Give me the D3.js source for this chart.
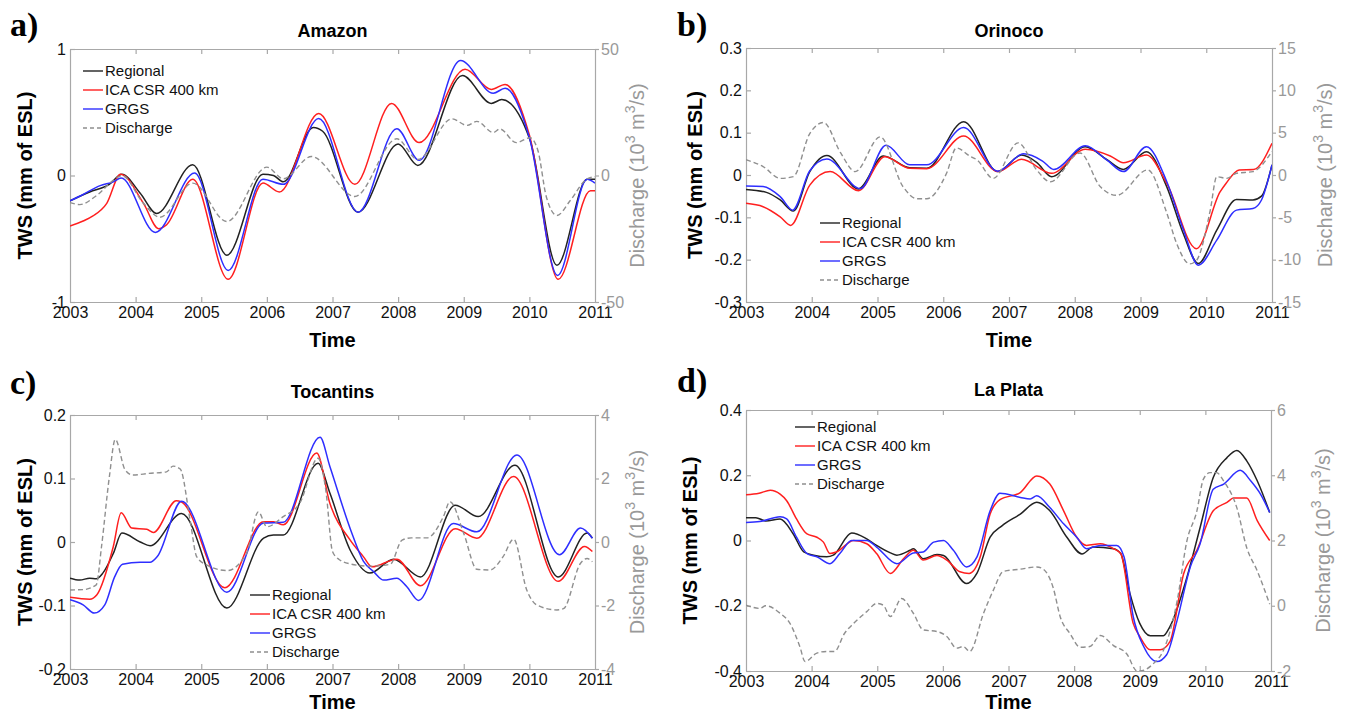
<!DOCTYPE html>
<html>
<head>
<meta charset="utf-8">
<script src="https://cdn.jsdelivr.net/npm/d3@7"></script>
<style>
  body { margin: 0; background: #fff; }
  svg { font-family: Arial, "Liberation Sans", Helvetica, sans-serif; }
</style>
</head>
<body>
<svg id="chart" width="1345" height="713"></svg>
<script>
// DATA: [decimal year, value]; TWS in mm of ESL, discharge in 10^3 m^3/s
const years = [2003, 2004, 2005, 2006, 2007, 2008, 2009, 2010, 2011];
const seriesNames = ["Regional", "ICA CSR 400 km", "GRGS", "Discharge"];

// --- Amazon ---
const amazonRegional = [[2003.0,-0.20],[2003.3,-0.13],[2003.6,-0.07],[2003.79,0.01],[2004.07,-0.14],[2004.32,-0.30],[2004.87,0.085],[2005.39,-0.63],[2005.94,0.01],[2006.1,0.0],[2006.25,-0.05],[2006.71,0.38],[2006.85,0.35],[2007.39,-0.29],[2008.0,0.25],[2008.3,0.08],[2008.98,0.79],[2009.42,0.57],[2009.58,0.60],[2010.01,0.28],[2010.42,-0.71],[2010.88,-0.03],[2011.0,-0.03]];
const amazonICA = [[2003.0,-0.40],[2003.2,-0.36],[2003.35,-0.32],[2003.56,-0.22],[2003.77,0.01],[2004.12,-0.22],[2004.35,-0.42],[2004.47,-0.39],[2004.87,-0.03],[2005.41,-0.82],[2005.94,-0.06],[2006.19,-0.13],[2006.79,0.49],[2007.34,-0.07],[2007.9,0.57],[2008.32,0.26],[2009.02,0.84],[2009.42,0.68],[2009.63,0.72],[2010.0,0.32],[2010.44,-0.82],[2010.93,-0.12],[2011.0,-0.12]];
const amazonGRGS = [[2003.0,-0.20],[2003.2,-0.15],[2003.46,-0.08],[2003.66,-0.05],[2003.78,-0.02],[2004.3,-0.45],[2004.9,0.02],[2005.41,-0.75],[2005.94,-0.03],[2006.25,-0.07],[2006.79,0.45],[2007.39,-0.29],[2007.98,0.37],[2008.32,0.12],[2008.95,0.91],[2009.45,0.65],[2009.63,0.69],[2010.0,0.30],[2010.43,-0.79],[2010.88,-0.03],[2011.0,-0.06]];
const amazonDischarge = [[2003.0,-10.7],[2003.15,-11.5],[2003.4,-8],[2003.69,-1.3],[2003.79,0],[2004.12,-11],[2004.37,-16.5],[2004.87,-3],[2005.39,-18.2],[2006.0,3.3],[2006.25,-1.3],[2006.68,7.5],[2007.34,-8.3],[2007.98,14.5],[2008.3,6.3],[2008.82,22.4],[2009.05,19.8],[2009.2,21.4],[2009.45,17],[2009.55,18.4],[2009.8,13],[2010.01,14.9],[2010.13,9.9],[2010.26,-8.6],[2010.42,-15.8],[2010.62,-10],[2010.88,-1.3],[2011.0,-0.5]];
const amazonTicks = [-1, 0, 1];
const amazonDischargeTicks = [-50, 0, 50];

// --- Orinoco ---
const orinocoRegional = [[2003.0,-0.034],[2003.31,-0.041],[2003.52,-0.059],[2003.72,-0.085],[2003.97,0.008],[2004.23,0.046],[2004.71,-0.033],[2005.09,0.045],[2005.49,0.017],[2005.75,0.016],[2006.31,0.126],[2006.83,0.008],[2007.19,0.047],[2007.42,0.03],[2007.65,-0.004],[2008.16,0.067],[2008.49,0.036],[2008.74,0.013],[2009.09,0.055],[2009.4,-0.028],[2009.65,-0.138],[2009.88,-0.209],[2010.16,-0.13],[2010.46,-0.058],[2010.71,-0.059],[2010.84,-0.05],[2011.0,0.024]];
const orinocoICA = [[2003.0,-0.067],[2003.26,-0.075],[2003.52,-0.099],[2003.68,-0.119],[2003.97,-0.024],[2004.28,0.008],[2004.71,-0.037],[2005.11,0.043],[2005.49,0.016],[2005.75,0.015],[2006.31,0.092],[2006.83,0.008],[2007.19,0.037],[2007.65,0.004],[2008.16,0.061],[2008.54,0.045],[2008.74,0.029],[2009.09,0.047],[2009.4,-0.02],[2009.85,-0.174],[2010.21,-0.04],[2010.3,-0.02],[2010.5,0.012],[2010.72,0.013],[2011.0,0.075]];
const orinocoGRGS = [[2003.0,-0.026],[2003.26,-0.027],[2003.52,-0.051],[2003.71,-0.083],[2003.97,0.01],[2004.23,0.038],[2004.74,-0.032],[2005.13,0.07],[2005.49,0.024],[2005.75,0.024],[2006.31,0.112],[2006.83,0.009],[2007.22,0.05],[2007.51,0.033],[2007.68,0.013],[2008.16,0.069],[2008.49,0.035],[2008.74,0.008],[2009.09,0.067],[2009.4,-0.016],[2009.65,-0.128],[2009.88,-0.213],[2010.16,-0.154],[2010.46,-0.083],[2010.71,-0.079],[2010.84,-0.059],[2011.0,0.024]];
const orinocoDischarge = [[2003.0,1.8],[2003.26,1.0],[2003.52,-0.4],[2003.72,-0.2],[2003.97,4.9],[2004.18,6.2],[2004.44,2.6],[2004.66,0.4],[2005.04,4.5],[2005.39,-1.4],[2005.6,-2.8],[2005.75,-2.8],[2006.05,0.2],[2006.2,3.2],[2006.41,2.2],[2006.51,1.8],[2006.76,-0.4],[2007.14,3.8],[2007.42,0.6],[2007.63,-0.8],[2008.08,2.6],[2008.39,-1.4],[2008.64,-2.4],[2009.11,0.6],[2009.4,-4.5],[2009.55,-8.1],[2009.75,-10.5],[2009.85,-10.1],[2010.06,-4.2],[2010.16,-0.2],[2010.31,-0.4],[2010.46,0.2],[2010.71,0.4],[2011.0,2.8]];
const orinocoTicks = [-0.3, -0.2, -0.1, 0, 0.1, 0.2, 0.3];
const orinocoDischargeTicks = [-15, -10, -5, 0, 5, 10, 15];

// --- Tocantins ---
const tocantinsRegional = [[2003.0,-0.057],[2003.15,-0.06],[2003.3,-0.057],[2003.4,-0.058],[2003.5,-0.049],[2003.66,-0.018],[2003.79,0.014],[2004.07,0.0],[2004.22,-0.006],[2004.7,0.045],[2005.39,-0.104],[2005.95,0.006],[2006.1,0.011],[2006.25,0.011],[2006.78,0.124],[2006.96,0.077],[2007.27,-0.013],[2007.57,-0.049],[2007.93,-0.027],[2008.34,-0.055],[2008.87,0.058],[2009.22,0.04],[2009.78,0.121],[2010.44,-0.055],[2010.88,0.014],[2010.96,0.006]];
const tocantinsICA = [[2003.0,-0.087],[2003.3,-0.09],[2003.41,-0.083],[2003.66,-0.007],[2003.78,0.046],[2003.94,0.022],[2004.17,0.02],[2004.27,0.015],[2004.62,0.065],[2004.7,0.063],[2005.36,-0.072],[2005.95,0.032],[2006.1,0.032],[2006.25,0.027],[2006.76,0.140],[2006.96,0.061],[2007.27,0.003],[2007.47,-0.023],[2007.6,-0.039],[2007.98,-0.027],[2008.34,-0.069],[2008.87,0.021],[2009.2,0.006],[2009.76,0.103],[2010.44,-0.062],[2010.84,-0.007],[2010.96,-0.015]];
const tocantinsGRGS = [[2003.0,-0.091],[2003.2,-0.099],[2003.37,-0.112],[2003.53,-0.099],[2003.68,-0.055],[2003.8,-0.035],[2004.07,-0.032],[2004.22,-0.032],[2004.33,-0.023],[2004.7,0.064],[2005.39,-0.079],[2005.95,0.03],[2006.25,0.031],[2006.81,0.165],[2006.96,0.119],[2007.27,0.021],[2007.47,-0.03],[2007.63,-0.047],[2007.78,-0.06],[2007.98,-0.057],[2008.13,-0.07],[2008.31,-0.092],[2008.84,0.029],[2009.2,0.016],[2009.81,0.137],[2010.46,-0.02],[2010.78,0.022],[2010.96,0.006]];
const tocantinsDischarge = [[2003.0,-1.51],[2003.2,-1.5],[2003.4,-1.35],[2003.48,-0.15],[2003.6,2.06],[2003.69,3.23],[2003.84,2.27],[2003.96,2.11],[2004.2,2.16],[2004.47,2.21],[2004.57,2.39],[2004.68,2.3],[2004.83,0.69],[2004.93,-0.46],[2005.08,-0.72],[2005.39,-0.9],[2005.69,-0.36],[2005.87,0.95],[2006.0,0.48],[2006.25,0.8],[2006.5,1.22],[2006.78,2.64],[2006.9,1.6],[2007.0,-0.3],[2007.1,-0.55],[2007.27,-0.69],[2007.57,-0.76],[2007.88,-0.7],[2008.06,0.06],[2008.2,0.13],[2008.44,0.13],[2008.69,0.8],[2008.79,1.27],[2009.0,0.27],[2009.2,-0.86],[2009.4,-0.88],[2009.6,-0.46],[2009.76,0.09],[2009.96,-1.51],[2010.11,-1.98],[2010.42,-2.14],[2010.52,-2.1],[2010.78,-0.67],[2010.88,-0.52],[2010.96,-0.62]];
const tocantinsTicks = [-0.2, -0.1, 0, 0.1, 0.2];
const tocantinsDischargeTicks = [-4, -2, 0, 2, 4];

// --- La Plata ---
const laPlataRegional = [[2003.0,0.07],[2003.15,0.07],[2003.3,0.06],[2003.52,0.066],[2003.72,0.02],[2003.88,-0.035],[2004.03,-0.045],[2004.23,-0.05],[2004.33,-0.045],[2004.61,0.023],[2004.84,0.005],[2004.99,-0.015],[2005.2,-0.038],[2005.3,-0.045],[2005.5,-0.03],[2005.55,-0.025],[2005.7,-0.056],[2005.91,-0.043],[2006.01,-0.046],[2006.36,-0.132],[2006.52,-0.1],[2006.72,0.01],[2006.9,0.045],[2007.18,0.081],[2007.43,0.117],[2007.63,0.091],[2007.89,0.01],[2008.12,-0.041],[2008.29,-0.02],[2008.6,-0.025],[2008.71,-0.04],[2008.85,-0.162],[2009.0,-0.254],[2009.16,-0.292],[2009.36,-0.292],[2009.46,-0.264],[2009.72,-0.112],[2009.92,0.04],[2010.12,0.193],[2010.33,0.254],[2010.48,0.276],[2010.63,0.244],[2010.79,0.183],[2010.98,0.086]];
const laPlataICA = [[2003.0,0.14],[2003.2,0.145],[2003.37,0.154],[2003.52,0.142],[2003.62,0.122],[2003.77,0.066],[2003.93,0.02],[2004.08,0.01],[2004.18,-0.005],[2004.28,-0.04],[2004.38,-0.035],[2004.64,0.0],[2004.84,-0.01],[2004.99,-0.04],[2005.2,-0.101],[2005.4,-0.056],[2005.55,-0.03],[2005.7,-0.06],[2005.91,-0.046],[2006.06,-0.06],[2006.26,-0.096],[2006.4,-0.101],[2006.57,-0.05],[2006.72,0.081],[2006.87,0.125],[2007.18,0.147],[2007.43,0.198],[2007.63,0.173],[2007.84,0.091],[2008.04,0.01],[2008.19,-0.015],[2008.4,-0.01],[2008.6,-0.025],[2008.71,-0.04],[2008.9,-0.254],[2009.0,-0.294],[2009.16,-0.335],[2009.31,-0.335],[2009.46,-0.31],[2009.67,-0.101],[2009.87,-0.03],[2010.12,0.091],[2010.33,0.117],[2010.43,0.13],[2010.63,0.13],[2010.79,0.061],[2010.98,0.0]];
const laPlataGRGS = [[2003.0,0.055],[2003.21,0.058],[2003.52,0.073],[2003.62,0.066],[2003.77,0.01],[2003.93,-0.04],[2004.08,-0.05],[2004.28,-0.071],[2004.43,-0.04],[2004.61,0.0],[2004.84,0.0],[2004.99,-0.02],[2005.3,-0.071],[2005.55,-0.038],[2005.7,-0.035],[2005.86,-0.005],[2006.01,0.0],[2006.16,-0.03],[2006.36,-0.081],[2006.52,-0.05],[2006.72,0.091],[2006.87,0.145],[2007.18,0.132],[2007.33,0.127],[2007.43,0.137],[2007.63,0.101],[2007.84,0.051],[2008.04,0.01],[2008.19,-0.025],[2008.4,-0.015],[2008.65,-0.015],[2008.76,-0.05],[2008.9,-0.233],[2009.06,-0.325],[2009.26,-0.371],[2009.41,-0.35],[2009.57,-0.244],[2009.77,-0.081],[2009.92,-0.01],[2010.12,0.157],[2010.28,0.173],[2010.53,0.215],[2010.69,0.183],[2010.84,0.142],[2010.98,0.086]];
const laPlataDischarge = [[2003.0,0.02],[2003.21,-0.08],[2003.3,0.0],[2003.52,-0.23],[2003.67,-0.54],[2003.82,-1.25],[2003.9,-1.71],[2004.08,-1.45],[2004.23,-1.4],[2004.35,-1.4],[2004.5,-0.85],[2004.64,-0.54],[2004.84,-0.18],[2004.99,0.07],[2005.09,0.02],[2005.2,-0.33],[2005.37,0.22],[2005.55,-0.23],[2005.7,-0.74],[2005.91,-0.79],[2006.06,-0.94],[2006.21,-1.3],[2006.31,-1.25],[2006.41,-1.4],[2006.62,-0.23],[2006.77,0.48],[2006.92,1.05],[2007.18,1.12],[2007.43,1.19],[2007.53,1.12],[2007.68,0.56],[2007.79,-0.35],[2007.94,-0.86],[2008.09,-1.27],[2008.24,-1.25],[2008.4,-0.91],[2008.6,-1.22],[2008.8,-1.47],[2008.96,-2.0],[2009.0,-2.0],[2009.21,-1.77],[2009.36,-1.37],[2009.57,0.15],[2009.72,2.0],[2009.87,2.9],[2009.97,3.88],[2010.07,4.08],[2010.17,4.08],[2010.28,3.82],[2010.48,3.0],[2010.63,1.78],[2010.79,1.07],[2010.98,0.05]];
const laPlataTicks = [-0.4, -0.2, 0, 0.2, 0.4];
const laPlataDischargeTicks = [-2, 0, 2, 4, 6];

// PANEL LAYOUT
const panels = [
  { letter: "a)", title: "Amazon", series: [amazonRegional, amazonICA, amazonGRGS], discharge: amazonDischarge,
    yDomain: [-1, 1], yTicks: amazonTicks, dDomain: [-50, 50], dTicks: amazonDischargeTicks,
    box: { x0: 70, x1: 595, y0: 49, y1: 302 }, letterPos: [10, 36], titleY: 37, timeY: 347,
    yLabelX: 25, dLabelX: 637, legend: { x: 83, y: 71 } },
  { letter: "b)", title: "Orinoco", series: [orinocoRegional, orinocoICA, orinocoGRGS], discharge: orinocoDischarge,
    yDomain: [-0.3, 0.3], yTicks: orinocoTicks, dDomain: [-15, 15], dTicks: orinocoDischargeTicks,
    box: { x0: 746, x1: 1272, y0: 48, y1: 302 }, letterPos: [677, 36], titleY: 37, timeY: 347,
    yLabelX: 695, dLabelX: 1325, legend: { x: 820, y: 223 } },
  { letter: "c)", title: "Tocantins", series: [tocantinsRegional, tocantinsICA, tocantinsGRGS], discharge: tocantinsDischarge,
    yDomain: [-0.2, 0.2], yTicks: tocantinsTicks, dDomain: [-4, 4], dTicks: tocantinsDischargeTicks,
    box: { x0: 70, x1: 595, y0: 415, y1: 669 }, letterPos: [10, 394], titleY: 398, timeY: 709,
    yLabelX: 25, dLabelX: 637, legend: { x: 250, y: 595 } },
  { letter: "d)", title: "La Plata", series: [laPlataRegional, laPlataICA, laPlataGRGS], discharge: laPlataDischarge,
    yDomain: [-0.4, 0.4], yTicks: laPlataTicks, dDomain: [-2, 6], dTicks: laPlataDischargeTicks,
    box: { x0: 746, x1: 1271, y0: 410, y1: 671 }, letterPos: [677, 392], titleY: 396, timeY: 709,
    yLabelX: 690, dLabelX: 1323, legend: { x: 795, y: 427 } }
];

const colors = ["#222222", "#ff1f1f", "#2e2eff"];
const dischargeColor = "#8f8f8f";
const frameColor = "#a8a8a8";

const svg = d3.select("#chart");

panels.forEach((p, i) => {
  const b = p.box;
  const x = d3.scaleLinear().domain([2003, 2011]).range([b.x0, b.x1]);
  const y = d3.scaleLinear().domain(p.yDomain).range([b.y1, b.y0]);
  const yD = d3.scaleLinear().domain(p.dDomain).range([b.y1, b.y0]);

  const g = svg.append("g");

  // clip
  svg.append("clipPath").attr("id", "clip" + i)
    .append("rect")
    .attr("x", b.x0).attr("y", b.y0)
    .attr("width", b.x1 - b.x0).attr("height", b.y1 - b.y0);

  // Axes
  const bottom = g.append("g")
    .attr("transform", `translate(0,${b.y1})`)
    .call(d3.axisBottom(x).tickValues(years).tickFormat(d3.format("d"))
      .tickSize(-5).tickSizeOuter(0).tickPadding(5));
  const top = g.append("g")
    .attr("transform", `translate(0,${b.y0})`)
    .call(d3.axisTop(x).tickValues(years).tickFormat("")
      .tickSize(-5).tickSizeOuter(0));
  const left = g.append("g")
    .attr("transform", `translate(${b.x0},0)`)
    .call(d3.axisLeft(y).tickValues(p.yTicks).tickFormat(d => String(d))
      .tickSize(-5).tickSizeOuter(0).tickPadding(4));
  const right = g.append("g")
    .attr("transform", `translate(${b.x1},0)`)
    .call(d3.axisRight(yD).tickValues(p.dTicks).tickFormat(d => String(d))
      .tickSize(4).tickSizeOuter(0).tickPadding(2));

  [bottom, top, left, right].forEach(a => {
    a.select(".domain").attr("stroke", frameColor).attr("stroke-width", 1.2);
    a.selectAll(".tick line").attr("stroke", frameColor).attr("stroke-width", 1.2);
    a.selectAll("text").attr("font-size", 16).attr("font-family", null).attr("fill", "#111");
  });
  right.selectAll("text").attr("fill", "#999");
  // end ticks sit on the frame corners
  [bottom, top].forEach(a => a.selectAll(".tick line").filter(d => d === 2003 || d === 2011).remove());

  // Lines
  const line = (sc) => d3.line().x(d => x(d[0])).y(d => sc(d[1])).curve(d3.curveMonotoneX);
  const plot = g.append("g").attr("clip-path", `url(#clip${i})`);
  p.series.forEach((s, k) => {
    plot.append("path")
      .datum(s)
      .attr("fill", "none")
      .attr("stroke", colors[k])
      .attr("stroke-width", 1.5)
      .attr("d", line(y));
  });
  plot.append("path")
    .datum(p.discharge)
    .attr("fill", "none")
    .attr("stroke", dischargeColor)
    .attr("stroke-width", 1.4)
    .attr("stroke-dasharray", "5,3")
    .attr("d", line(yD));

  // Titles and labels
  g.append("text")
    .attr("x", (b.x0 + b.x1) / 2).attr("y", p.titleY)
    .attr("text-anchor", "middle")
    .attr("font-size", 18).attr("font-weight", "bold")
    .text(p.title);

  g.append("text")
    .attr("x", p.letterPos[0]).attr("y", p.letterPos[1])
    .attr("font-family", "'Times New Roman', 'Liberation Serif', serif")
    .attr("font-size", 34).attr("font-weight", "bold")
    .text(p.letter);

  g.append("text")
    .attr("x", (b.x0 + b.x1) / 2).attr("y", p.timeY)
    .attr("text-anchor", "middle")
    .attr("font-size", 20).attr("font-weight", "bold")
    .text("Time");

  const midY = (b.y0 + b.y1) / 2;
  g.append("text")
    .attr("transform", `translate(${p.yLabelX},${midY}) rotate(-90)`)
    .attr("text-anchor", "middle")
    .attr("dy", "0.35em")
    .attr("font-size", 20).attr("font-weight", "bold")
    .text("TWS (mm of ESL)");

  const dl = g.append("text")
    .attr("transform", `translate(${p.dLabelX},${midY}) rotate(-90)`)
    .attr("text-anchor", "middle")
    .attr("dy", "0.35em")
    .attr("font-size", 20)
    .attr("fill", "#999");
  dl.append("tspan").text("Discharge (10");
  dl.append("tspan").attr("font-size", 14).attr("dy", -9).text("3");
  dl.append("tspan").attr("dy", 9).text(" m");
  dl.append("tspan").attr("font-size", 14).attr("dy", -9).text("3");
  dl.append("tspan").attr("dy", 9).text("/s)");

  // Legend
  const lg = g.append("g").attr("transform", `translate(${p.legend.x},${p.legend.y})`);
  seriesNames.forEach((name, k) => {
    const row = lg.append("g").attr("transform", `translate(0,${k * 19})`);
    row.append("line")
      .attr("x1", 0).attr("x2", 20).attr("y1", 0).attr("y2", 0)
      .attr("stroke", k < 3 ? colors[k] : dischargeColor)
      .attr("stroke-width", 1.4)
      .attr("stroke-dasharray", k < 3 ? null : "4,3");
    row.append("text")
      .attr("x", 22).attr("y", 0).attr("dy", "0.35em")
      .attr("font-size", 15).attr("fill", "#111")
      .text(name);
  });
});
</script>
</body>
</html>
